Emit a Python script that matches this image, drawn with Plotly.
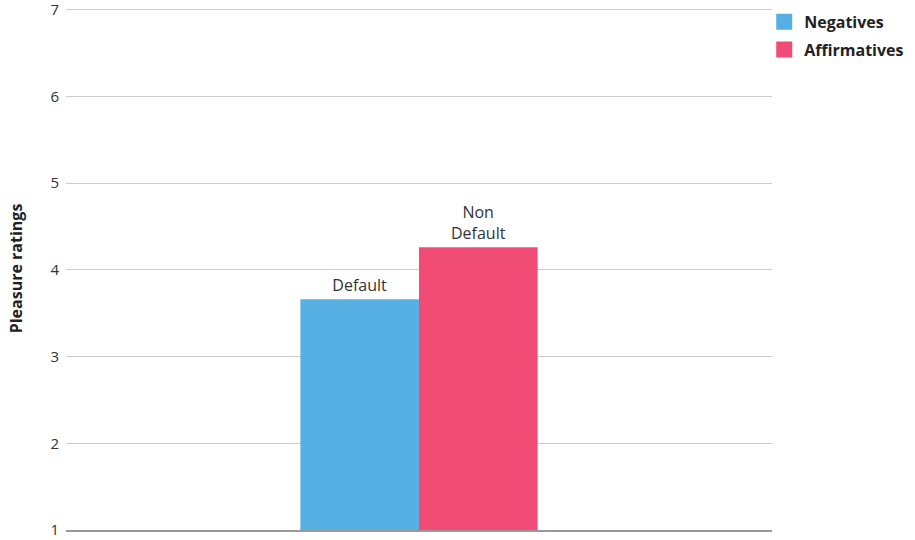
import plotly.graph_objects as go

categories = ["Condition"]
series_names = ["Negatives", "Affirmatives"]
negatives = [3.66]
affirmatives = [4.26]
bar_labels = ["Default", "Non<br>Default"]
y_ticks = [1, 2, 3, 4, 5, 6, 7]

colors = ["#56B0E3", "#F04B75"]

fig = go.Figure()
for name, vals, lab, col in zip(series_names, [negatives, affirmatives], bar_labels, colors):
    fig.add_trace(go.Bar(
        x=categories, y=vals, name=name, showlegend=False,
        marker=dict(color=col, line=dict(width=0)),
        text=[lab], textposition="outside",
        textfont=dict(family="Open Sans", size=16, color="#333333"),
        cliponaxis=False,
    ))
for name, col in zip(series_names, colors):
    fig.add_trace(go.Scatter(
        x=[None], y=[None], mode="markers", name=name, legendgroup=name,
        marker=dict(symbol="square", size=16, color=col),
        showlegend=True,
    ))

fig.update_layout(
    width=915, height=540,
    margin=dict(l=66, r=143, t=7, b=10, autoexpand=False),
    paper_bgcolor="white", plot_bgcolor="white",
    barmode="group", bargap=0.664, bargroupgap=0,
    font=dict(family="Open Sans", color="#333333"),
    showlegend=True,
    legend=dict(x=0.989, y=1.004, xanchor="left", yanchor="top",
                font=dict(family="Open Sans", size=16, color="#222222", weight="bold"),
                traceorder="grouped", tracegroupgap=4,
                itemwidth=30, bgcolor="rgba(0,0,0,0)"),
    xaxis=dict(showticklabels=False, showgrid=False, showline=True, automargin=False,
               linecolor="#999999", linewidth=2, ticks="", zeroline=False),
    yaxis=dict(range=[1, 7.03], tickvals=y_ticks, showgrid=True, gridcolor="#cccccc",
               gridwidth=1, zeroline=False, showline=False, ticks="", automargin=False,
               ticklabeloverflow="allow",
               tickfont=dict(family="Open Sans", size=15, color="#333333"),
               ticklabelstandoff=6,
               title=dict(text="Pleasure ratings", standoff=23,
                          font=dict(family="Open Sans", size=16, color="#222222", weight="bold"))),
)

fig.write_html("out.html")
